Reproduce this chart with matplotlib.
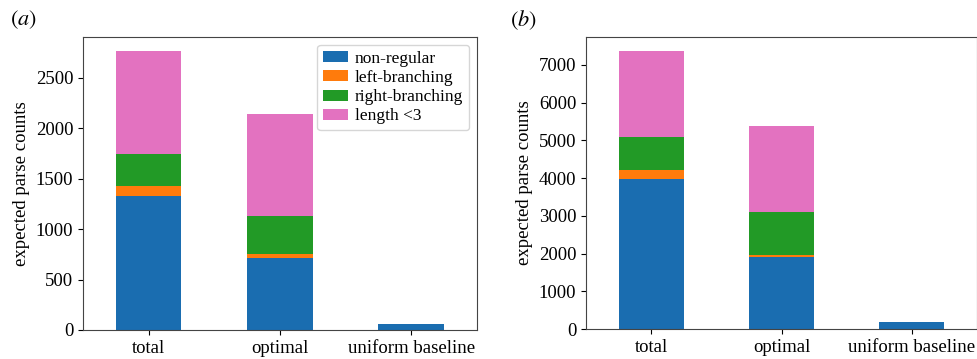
import matplotlib
matplotlib.use("Agg")
import matplotlib.pyplot as plt
import numpy as np

plt.rcParams['font.family'] = 'serif'
plt.rcParams['font.serif'] = ['Liberation Serif', 'DejaVu Serif']
plt.rcParams['mathtext.fontset'] = 'stix'

categories = ['total', 'optimal', 'uniform baseline']
series_names = ['non-regular', 'left-branching', 'right-branching', 'length <3']
colors = ['#1a6db0', '#ff7b0c', '#229a26', '#e372c0']

# panel (a)
a_nonregular = [1329, 717, 56]
a_left = [102, 37, 0]
a_right = [315, 377, 0]
a_short = [1022, 1015, 0]

# panel (b)
b_nonregular = [3974, 1899, 177]
b_left = [229, 71, 0]
b_right = [878, 1126, 0]
b_short = [2287, 2284, 0]

W, H = 978, 359
fig = plt.figure(figsize=(W / 100, H / 100), dpi=100)


def px_axes(left, top, right, bottom):
    return fig.add_axes([left / W, 1 - bottom / H, (right - left) / W, (bottom - top) / H])


def stacked(ax, series):
    x = np.arange(len(categories))
    bottom = np.zeros(len(categories))
    for vals, name, c in zip(series, series_names, colors):
        ax.bar(x, vals, 0.5, bottom=bottom, color=c, label=name)
        bottom += np.array(vals)
    ax.set_xlim(-0.5, len(categories) - 0.5)
    ax.set_ylim(0, bottom.max() * 1.05)
    ax.set_xticks(x)
    ax.set_xticklabels(categories, fontsize=13.5)
    ax.tick_params(axis='y', labelsize=13.5)
    ax.set_ylabel('expected parse counts', fontsize=13.5)
    for s in ax.spines.values():
        s.set_color('#444444')


ax1 = px_axes(83, 37, 477, 330)
stacked(ax1, [a_nonregular, a_left, a_right, a_short])
ax1.set_yticks([0, 500, 1000, 1500, 2000, 2500])
ax1.legend(loc='upper right', fontsize=12.5, handlelength=1.4, handleheight=0.6,
           handletextpad=0.4, labelspacing=0.18, borderpad=0.35, borderaxespad=0.45)

ax2 = px_axes(586, 37, 977, 329)
stacked(ax2, [b_nonregular, b_left, b_right, b_short])
ax2.set_yticks(range(0, 8000, 1000))

fig.text(10 / W, 1 - 20 / H, r'$(a)$', fontsize=16, va='center', ha='left')
fig.text(510 / W, 1 - 20 / H, r'$(b)$', fontsize=16, va='center', ha='left')

fig.savefig('out.png', dpi=100)
